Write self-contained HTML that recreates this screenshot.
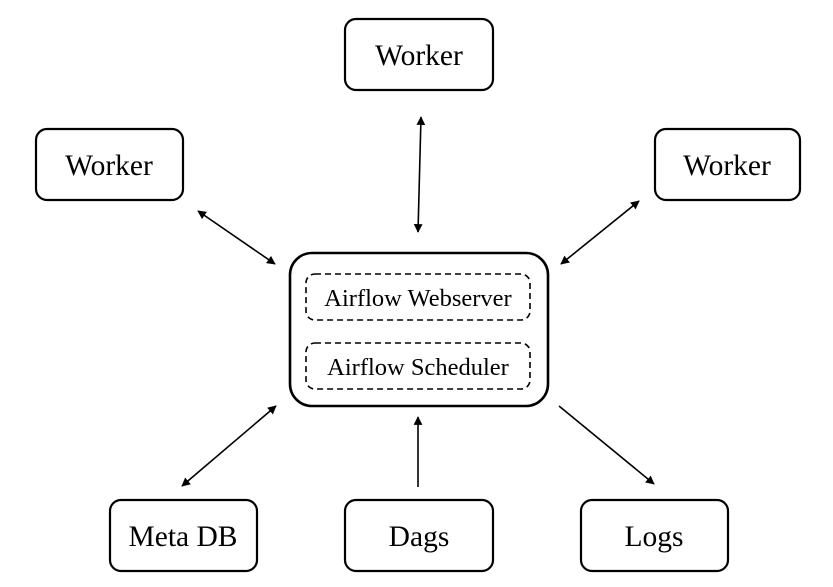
<!DOCTYPE html>
<html><head><meta charset="utf-8"><style>
html,body{margin:0;padding:0;background:#fff;}
svg{display:block;}
text{font-family:"Liberation Serif",serif;fill:#000;}
</style></head><body>
<svg width="833" height="587" viewBox="0 0 833 587" xmlns="http://www.w3.org/2000/svg">
<defs>
<marker id="a" viewBox="0 0 10 10" refX="9" refY="5" markerWidth="5.5" markerHeight="5.5" orient="auto-start-reverse">
<path d="M0,0 L10,5 L0,10 z" fill="#000"/>
</marker>
</defs>
<g fill="none" stroke="#000" stroke-width="2.2">
<rect x="345" y="19" width="148" height="71" rx="11"/>
<rect x="36" y="129" width="147" height="71" rx="11"/>
<rect x="655" y="129" width="145" height="71" rx="11"/>
<rect x="290" y="253" width="258" height="153" rx="22" stroke-width="2.6"/>
<rect x="110" y="500" width="147" height="71" rx="11"/>
<rect x="345" y="500" width="148" height="71" rx="11"/>
<rect x="581" y="500" width="147" height="71" rx="11"/>
</g>
<g fill="none" stroke="#000" stroke-width="1.6" stroke-dasharray="6,4">
<rect x="306" y="274" width="224" height="46" rx="9"/>
<rect x="306" y="343" width="224" height="46" rx="9"/>
</g>
<g stroke="#000" stroke-width="1.6" fill="none">
<line x1="421" y1="117" x2="418" y2="232" marker-start="url(#a)" marker-end="url(#a)"/>
<line x1="198" y1="211" x2="275" y2="264" marker-start="url(#a)" marker-end="url(#a)"/>
<line x1="639" y1="201" x2="561" y2="264" marker-start="url(#a)" marker-end="url(#a)"/>
<line x1="182" y1="486" x2="276" y2="406" marker-start="url(#a)" marker-end="url(#a)"/>
<line x1="418" y1="487" x2="418" y2="417" marker-end="url(#a)"/>
<line x1="559" y1="406" x2="654" y2="484" marker-end="url(#a)"/>
</g>
<g font-size="29.5" text-anchor="middle">
<text x="419" y="65">Worker</text>
<text x="109" y="175">Worker</text>
<text x="727" y="175">Worker</text>
<text x="183" y="546">Meta DB</text>
<text x="419" y="546">Dags</text>
<text x="654" y="546">Logs</text>
</g>
<g font-size="24.5" text-anchor="middle">
<text x="418" y="306">Airflow Webserver</text>
<text x="418" y="375">Airflow Scheduler</text>
</g>
</svg>
</body></html>
